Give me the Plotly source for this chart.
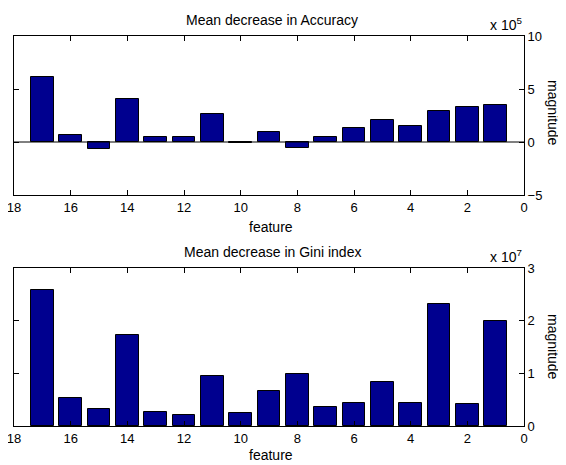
import plotly.graph_objects as go

features = list(range(1, 18))
acc_e5 = [3.48, 3.26, 2.93, 1.51, 2.09, 1.32, 0.46, -0.52, 0.99, -0.12,
          2.62, 0.46, 0.46, 4.10, -0.65, 0.68, 6.13]
gini_e7 = [1.99, 0.42, 2.31, 0.43, 0.84, 0.43, 0.37, 0.99, 0.67, 0.24,
           0.94, 0.20, 0.26, 1.73, 0.33, 0.54, 2.59]
x_ticks = list(range(0, 19, 2))
y1_ticks = [-5, 0, 5, 10]
y2_ticks = [0, 1, 2, 3]

# page body has an 8px default margin; size the figure to fit the window
OFF = 8
W, H = 566 - OFF, 465 - OFF
FAM = "Liberation Sans, Arial, sans-serif"
FONT = dict(family=FAM, size=14, color="black")
TICKFONT = dict(family=FAM, size=13, color="black")
BAR = "#00008F"

def px(x):
    return (x - OFF) / W

def py(y):
    return 1 - (y - OFF) / H

fig = go.Figure()
fig.add_trace(go.Bar(x=features, y=acc_e5, width=0.8,
                     marker=dict(color=BAR, line=dict(color="black", width=1)),
                     xaxis="x", yaxis="y", showlegend=False))
fig.add_trace(go.Bar(x=features, y=gini_e7, width=0.8,
                     marker=dict(color=BAR, line=dict(color="black", width=1)),
                     xaxis="x2", yaxis="y2", showlegend=False))

xd = [px(14), px(524)]
y1d = [py(195), py(36)]
y2d = [py(426), py(268)]

def xax(anchor):
    return dict(domain=xd, range=[18, 0], tickvals=x_ticks, ticks="inside", ticklen=5,
                showline=True, linecolor="black", linewidth=1, mirror="ticks", showgrid=False,
                zeroline=False, anchor=anchor, tickfont=TICKFONT, tickcolor="black",
                automargin=False, ticklabeloverflow="allow")

def yax(anchor, dom, rng, tv):
    return dict(domain=dom, range=rng, tickvals=tv, ticks="inside", ticklen=5, side="right",
                showline=True, linecolor="black", linewidth=1, mirror="ticks", showgrid=False,
                zeroline=False, anchor=anchor, tickfont=TICKFONT, tickcolor="black",
                automargin=False, ticklabeloverflow="allow")

fig.update_layout(
    width=W, height=H, margin=dict(l=0, r=0, t=0, b=0),
    paper_bgcolor="white", plot_bgcolor="white", font=FONT, bargap=0,
    xaxis=xax("y"), yaxis=yax("x", y1d, [-5, 10], y1_ticks),
    xaxis2=xax("y2"), yaxis2=yax("x2", y2d, [0, 3], y2_ticks),
)

fig.add_shape(type="line", xref="x", yref="y", x0=18, x1=0, y0=0, y1=0,
              line=dict(color="black", width=1))

def ann(text, x, y, **kw):
    fig.add_annotation(text=text, x=px(x), y=py(y), xref="paper", yref="paper",
                       xanchor="center", yanchor="middle",
                       showarrow=False, font=FONT, **kw)

ann("Mean decrease in Accuracy", 272, 20)
ann("Mean decrease in Gini index", 272, 252)
ann("x 10<sup>5</sup>", 506, 24)
ann("x 10<sup>7</sup>", 506, 256)
ann("feature", 271, 227)
ann("feature", 271, 455)
ann("magnitude", 553, 113, textangle=90)
ann("magnitude", 553, 347, textangle=90)

fig.write_html("out.html")
